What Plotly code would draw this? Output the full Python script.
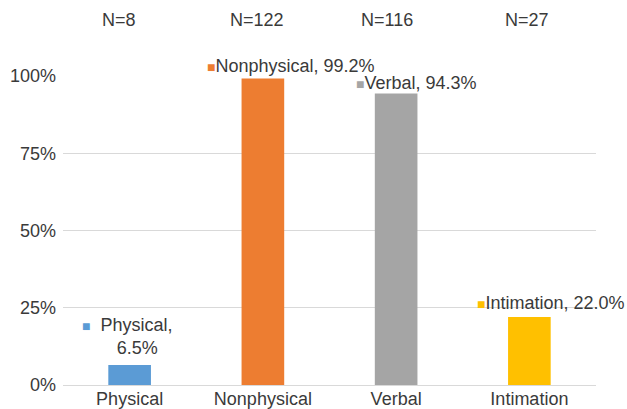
import plotly.graph_objects as go

categories = ["Physical", "Nonphysical", "Verbal", "Intimation"]
values = [0.065, 0.992, 0.943, 0.220]
n_labels = ["N=8", "N=122", "N=116", "N=27"]
colors = ["#5B9BD5", "#ED7D31", "#A5A5A5", "#FFC000"]
y_ticks = [0, 0.25, 0.5, 0.75, 1.0]
y_tick_text = ["0%", "25%", "50%", "75%", "100%"]

FONT = "Liberation Sans, Arial, sans-serif"
TXT = "#3a3a3a"

fig = go.Figure()
fig.add_trace(go.Bar(x=categories, y=values, marker=dict(color=colors, line=dict(width=0)),
                     width=0.32, showlegend=False, hoverinfo="skip"))

label_offsets = [(-2, 28), (28, 12), (20, 11), (22, 14)]
for i, (cat, v) in enumerate(zip(categories, values)):
    sq = f"<span style='font-size:14px;color:{colors[i]}'>■</span>"
    pct = f"{v*100:.1f}%"
    if i == 0:
        txt = f"{sq}&nbsp;&nbsp;{cat},<br>&nbsp;&nbsp;&nbsp;&nbsp;{pct}"
    else:
        txt = f"{sq}{cat}, {pct}"
    dx, dy = label_offsets[i]
    fig.add_annotation(x=cat, y=v, xref="x", yref="y", text=txt, showarrow=False,
                       xshift=dx, yshift=dy, xanchor="center", yanchor="middle",
                       align="center", font=dict(family=FONT, size=18, color=TXT))

n_shifts = [-11, -6, -9, -2]
for i, (cat, n) in enumerate(zip(categories, n_labels)):
    fig.add_annotation(x=cat, y=1.181, xref="x", yref="paper", text=n, showarrow=False,
                       xshift=n_shifts[i], xanchor="center", yanchor="middle",
                       font=dict(family=FONT, size=18, color=TXT))

fig.update_layout(
    width=627, height=409,
    margin=dict(l=63, r=31, t=76, b=24, autoexpand=False),
    paper_bgcolor="white", plot_bgcolor="white",
    font=dict(family=FONT, size=18, color=TXT),
    xaxis=dict(range=[-0.5, len(categories) - 0.5], showgrid=False, showline=True,
               linecolor="#d9d9d9", linewidth=1, ticks="", ticklabelstandoff=-3,
               tickfont=dict(size=18, color=TXT), fixedrange=True),
    yaxis=dict(range=[0, 1.0], tickvals=y_ticks, ticktext=y_tick_text,
               showgrid=True, gridcolor="#d9d9d9", gridwidth=1, zeroline=False,
               showline=False, ticks="", ticklabelstandoff=6,
               tickfont=dict(size=18, color=TXT)),
)

fig.write_html("out.html", config={"displayModeBar": False},
               post_script="document.body.style.margin='0';document.body.style.overflow='hidden';")
